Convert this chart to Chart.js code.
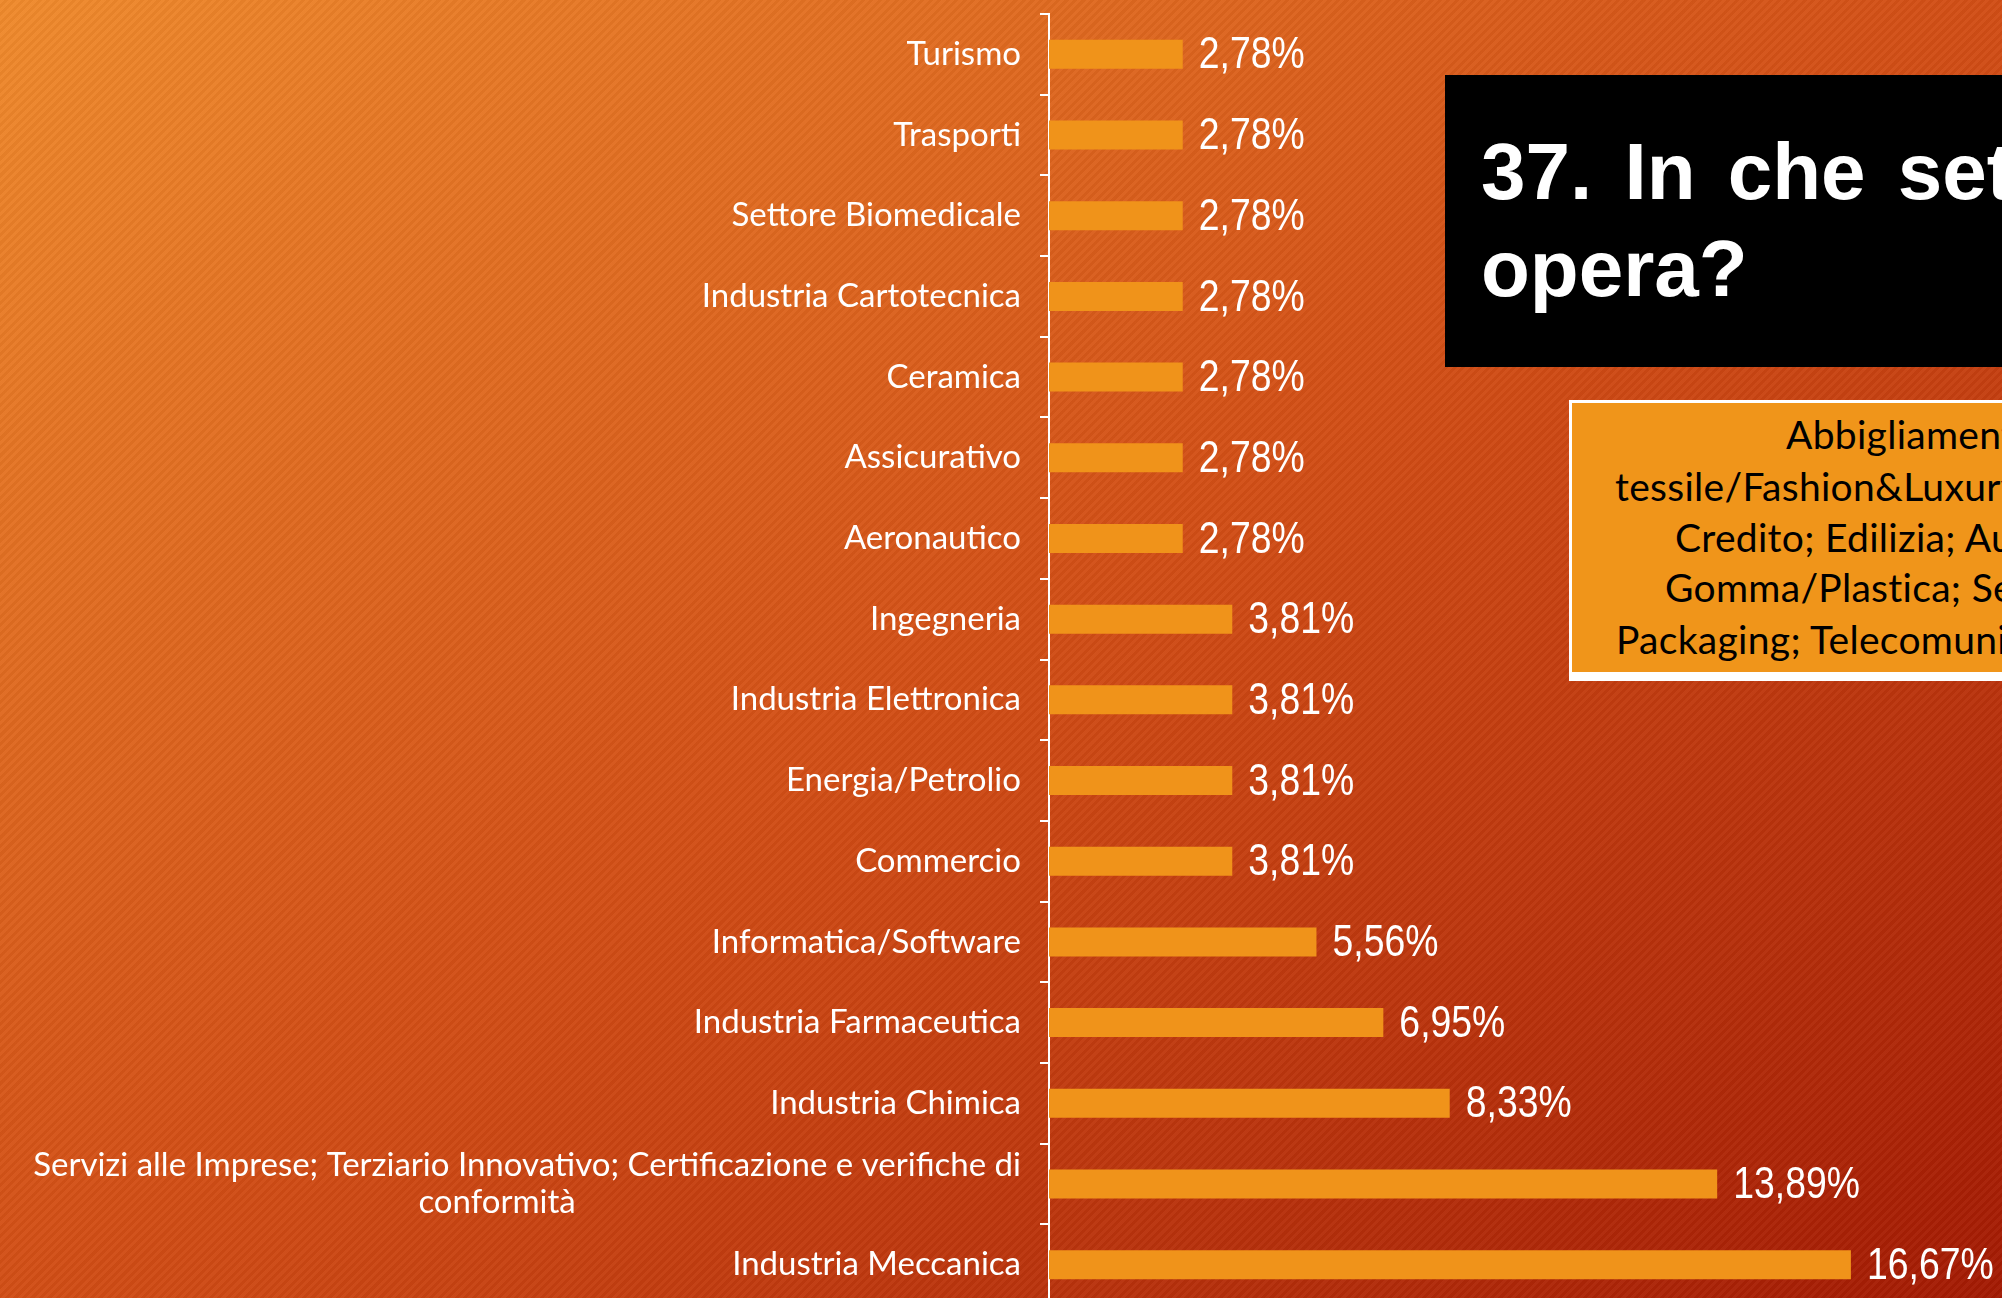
<!DOCTYPE html>
<html>
<head>
<meta charset="utf-8">
<script src="https://cdn.jsdelivr.net/npm/chart.js@4/dist/chart.umd.min.js"></script>
<style>
html,body{margin:0;padding:0;width:2002px;height:1298px;overflow:hidden;}
#bg{position:absolute;left:0;top:0;width:2002px;height:1298px;
  background:linear-gradient(to bottom right,#EF8A2C 0%,#D24E16 50%,#A31A03 100%);}
#stripes{position:absolute;left:0;top:0;width:2002px;height:1298px;
  background:repeating-linear-gradient(135deg,rgba(255,255,255,0.03) 0px,rgba(255,255,255,0.03) 3px,rgba(0,0,0,0.03) 3px,rgba(0,0,0,0.03) 6px);}
#wrap{position:absolute;left:0;top:0;width:2002px;height:1320px;}
#title{position:absolute;left:1445px;top:75px;width:700px;height:292px;background:#000;}
.tl{position:absolute;left:36px;font:bold 80px "Liberation Sans",Arial,sans-serif;color:#fff;white-space:nowrap;word-spacing:10px;line-height:80px;}
#note{position:absolute;left:1569px;top:400px;width:700px;height:269px;background:#F0951A;border:3px solid #fff;border-bottom-width:9px;}
.nl{position:absolute;font:39px Lato,"Open Sans",sans-serif;letter-spacing:0.3px;color:#000;white-space:nowrap;line-height:39px;}
</style>
</head>
<body>
<div id="bg"></div>
<div id="stripes"></div>
<div id="wrap"><canvas id="c"></canvas></div>
<div id="title">
  <div class="tl" style="top:57px">37. In che settore l'azienda</div>
  <div class="tl" style="top:154px">opera?</div>
</div>
<div id="note">
  <div class="nl" style="left:214px;top:12px">Abbigliamento; Industria</div>
  <div class="nl" style="left:43px;top:64px">tessile/Fashion&amp;Luxury; Automotive;</div>
  <div class="nl" style="left:103px;top:115px">Credito; Edilizia; Automazione;</div>
  <div class="nl" style="left:93px;top:165px">Gomma/Plastica; Servizi;</div>
  <div class="nl" style="left:44px;top:217px">Packaging; Telecomunicazioni</div>
</div>
<script>
const categories = [
  'Turismo','Trasporti','Settore Biomedicale','Industria Cartotecnica','Ceramica',
  'Assicurativo','Aeronautico','Ingegneria','Industria Elettronica','Energia/Petrolio',
  'Commercio','Informatica/Software','Industria Farmaceutica','Industria Chimica',
  ['Servizi alle Imprese; Terziario Innovativo; Certificazione e verifiche di','conformità'],
  'Industria Meccanica'
];
const values = [2.78,2.78,2.78,2.78,2.78,2.78,2.78,3.81,3.81,3.81,3.81,5.56,6.95,8.33,13.89,16.67];
const xMin = 0;
const xMax = 19;

const fmt = v => v.toFixed(2).replace('.', ',') + '%';
const MULTI = categories.findIndex(c => Array.isArray(c));
const LABEL_FONT = '33px Lato, "Open Sans", sans-serif';

const valueLabels = {
  id: 'valueLabels',
  afterDatasetsDraw(chart) {
    const ctx = chart.ctx;
    const meta = chart.getDatasetMeta(0);
    ctx.save();
    ctx.font = '44px "Liberation Sans", Arial, sans-serif';
    ctx.fillStyle = '#ffffff';
    ctx.textBaseline = 'middle';
    ctx.textAlign = 'left';
    meta.data.forEach((bar, i) => {
      ctx.save();
      ctx.translate(bar.x + 16, bar.y + 2);
      ctx.scale(0.85, 1);
      ctx.fillText(fmt(values[i]), 0, 0);
      ctx.restore();
    });
    ctx.restore();
  }
};

const multiLabel = {
  id: 'multiLabel',
  afterDraw(chart) {
    if (MULTI < 0) return;
    const scale = chart.scales.y;
    const ctx = chart.ctx;
    const lines = categories[MULTI];
    const y = scale.getPixelForTick(MULTI);
    const right = scale.right - scale.options.grid.tickLength - scale.options.ticks.padding;
    ctx.save();
    ctx.font = LABEL_FONT;
    ctx.fillStyle = '#ffffff';
    ctx.textBaseline = 'middle';
    const w1 = ctx.measureText(lines[0]).width;
    ctx.textAlign = 'right';
    ctx.fillText(lines[0], right, y - 18.5);
    ctx.textAlign = 'center';
    ctx.fillText(lines[1], right - w1 / 2 - 30, y + 18.5);
    ctx.restore();
  }
};

new Chart(document.getElementById('c'), {
  type: 'bar',
  data: {
    labels: categories,
    datasets: [{
      data: values,
      backgroundColor: '#F0931A',
      borderWidth: 0,
      barPercentage: 0.36,
      categoryPercentage: 1.0
    }]
  },
  options: {
    indexAxis: 'y',
    responsive: true,
    maintainAspectRatio: false,
    animation: false,
    layout: { padding: { top: 14, bottom: 15, left: 0, right: 39 } },
    plugins: { legend: { display: false }, tooltip: { enabled: false }, title: { display: false } },
    scales: {
      x: { display: false, min: xMin, max: xMax },
      y: {
        offset: true,
        grid: { display: true, drawOnChartArea: false, drawTicks: true, tickLength: 9, color: '#ffffff', lineWidth: 2, offset: true },
        border: { display: true, color: '#ffffff', width: 2 },
        ticks: {
          autoSkip: false,
          padding: 19,
          font: { family: 'Lato, "Open Sans", sans-serif', size: 33 },
          color: ctx => ctx.index === MULTI ? 'rgba(0,0,0,0)' : '#ffffff'
        },
        afterFit(scale) {
          scale.width = 1049;
          scale.paddingTop = 0;
          scale.paddingBottom = 0;
        }
      }
    }
  },
  plugins: [valueLabels, multiLabel]
});
</script>
</body>
</html>
